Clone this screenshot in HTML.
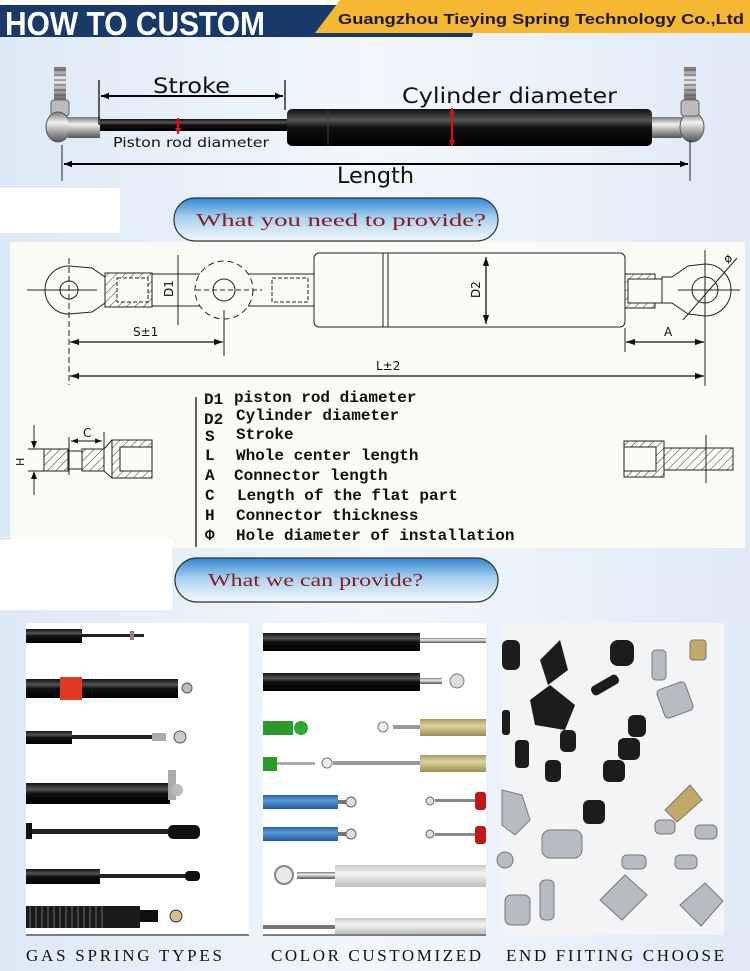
<!DOCTYPE html>
<html><head><meta charset="utf-8"><style>html,body{margin:0;padding:0;background:#fff}svg{display:block}</style></head><body>
<svg width="750" height="971" viewBox="0 0 750 971" xmlns="http://www.w3.org/2000/svg">
<defs>
<linearGradient id="bg" x1="0" y1="0" x2="1" y2="0"><stop offset="0" stop-color="#dce9f6"/><stop offset="0.5" stop-color="#f3f7fc"/><stop offset="1" stop-color="#dfeaf6"/></linearGradient>
<linearGradient id="btn" x1="0" y1="0" x2="0" y2="1"><stop offset="0" stop-color="#2f86d0"/><stop offset="0.45" stop-color="#a9d0ef"/><stop offset="1" stop-color="#f4f9fd"/></linearGradient>
<linearGradient id="blk" x1="0" y1="0" x2="0" y2="1"><stop offset="0" stop-color="#111"/><stop offset="0.3" stop-color="#555"/><stop offset="0.5" stop-color="#111"/><stop offset="1" stop-color="#000"/></linearGradient>
<linearGradient id="chr" x1="0" y1="0" x2="0" y2="1"><stop offset="0" stop-color="#777"/><stop offset="0.35" stop-color="#f2f2f2"/><stop offset="0.7" stop-color="#999"/><stop offset="1" stop-color="#555"/></linearGradient>
<linearGradient id="kha" x1="0" y1="0" x2="0" y2="1"><stop offset="0" stop-color="#a89a5c"/><stop offset="0.4" stop-color="#ddd3a0"/><stop offset="1" stop-color="#9b8d50"/></linearGradient>
<linearGradient id="blu" x1="0" y1="0" x2="0" y2="1"><stop offset="0" stop-color="#2a66a8"/><stop offset="0.4" stop-color="#5a9ad8"/><stop offset="1" stop-color="#245a96"/></linearGradient>
<linearGradient id="wht" x1="0" y1="0" x2="0" y2="1"><stop offset="0" stop-color="#c8c8c8"/><stop offset="0.4" stop-color="#f4f4f4"/><stop offset="1" stop-color="#bdbdbd"/></linearGradient>
<pattern id="hatch" width="6" height="6" patternUnits="userSpaceOnUse" patternTransform="rotate(45)"><rect width="6" height="6" fill="#fbfbf6"/><line x1="0" y1="0" x2="0" y2="6" stroke="#333" stroke-width="1"/></pattern>
<marker id="ar" viewBox="0 0 10 10" refX="10" refY="5" markerWidth="7" markerHeight="7" orient="auto-start-reverse"><path d="M0,1.5L10,5L0,8.5z" fill="#111"/></marker>
<marker id="arB" viewBox="0 0 10 10" refX="10" refY="5" markerWidth="4" markerHeight="4" orient="auto-start-reverse"><path d="M0,1L10,5L0,9z" fill="#000"/></marker>
<marker id="arR" viewBox="0 0 10 10" refX="10" refY="5" markerWidth="3" markerHeight="3" orient="auto-start-reverse"><path d="M0,0L10,5L0,10z" fill="#e01010"/></marker>
</defs>
<rect width="750" height="971" fill="url(#bg)"/>
<!-- header -->
<rect x="0" y="0" width="750" height="6" fill="#fff"/>
<polygon points="0,5 480,5 472,37 0,37" fill="#173a6b"/>
<polygon points="340,0 750,0 750,33 315,33" fill="#f6b733"/>
<text x="5" y="35" font-family="Liberation Sans, sans-serif" font-weight="bold" font-size="33" fill="#fff" textLength="260" lengthAdjust="spacingAndGlyphs">HOW TO CUSTOM</text>
<text x="338" y="24" font-family="Liberation Sans, sans-serif" font-weight="bold" font-size="15" fill="#1a1a1a" textLength="406" lengthAdjust="spacingAndGlyphs">Guangzhou Tieying Spring Technology Co.,Ltd</text>
<!-- top spring -->
<rect x="54" y="67" width="12" height="36" fill="url(#chr)" transform="rotate(0)"/>
<path d="M54,70h12M54,75h12M54,80h12M54,85h12M54,90h12M54,95h12" stroke="#555" stroke-width="1"/>
<rect x="51" y="100" width="18" height="16" rx="3" fill="#bbb" stroke="#666"/>
<ellipse cx="58" cy="127" rx="12" ry="15" fill="url(#chr)" stroke="#555"/>
<rect x="68" y="117" width="32" height="21" fill="url(#chr)"/>
<rect x="100" y="119" width="187" height="12" fill="url(#blk)"/>
<rect x="287" y="109" width="365" height="37" rx="5" fill="url(#blk)"/>
<line x1="328" y1="110" x2="328" y2="145" stroke="#444"/>
<rect x="652" y="117" width="30" height="21" fill="url(#chr)"/>
<ellipse cx="692" cy="127" rx="12" ry="15" fill="url(#chr)" stroke="#555"/>
<rect x="684" y="67" width="12" height="36" fill="url(#chr)"/>
<path d="M684,70h12M684,75h12M684,80h12M684,85h12M684,90h12M684,95h12" stroke="#555" stroke-width="1"/>
<rect x="681" y="100" width="18" height="16" rx="3" fill="#bbb" stroke="#666"/>
<line x1="99" y1="80" x2="99" y2="125" stroke="#000" stroke-width="1.2"/>
<line x1="285" y1="80" x2="285" y2="110" stroke="#000" stroke-width="1.2"/>
<line x1="101" y1="96" x2="283" y2="96" stroke="#000" stroke-width="2" marker-start="url(#arB)" marker-end="url(#arB)"/>
<text x="153" y="93" font-family="DejaVu Sans, sans-serif" font-size="21" fill="#111" textLength="77" lengthAdjust="spacingAndGlyphs">Stroke</text>
<text x="402" y="103" font-family="DejaVu Sans, sans-serif" font-size="21" fill="#111" textLength="215" lengthAdjust="spacingAndGlyphs">Cylinder diameter</text>
<text x="113" y="147" font-family="DejaVu Sans, sans-serif" font-size="13.5" fill="#111" textLength="156" lengthAdjust="spacingAndGlyphs">Piston rod diameter</text>
<line x1="178" y1="118" x2="178" y2="134" stroke="#e01010" stroke-width="2" marker-start="url(#arR)" marker-end="url(#arR)"/>
<line x1="452" y1="108" x2="452" y2="146" stroke="#e01010" stroke-width="2" marker-start="url(#arR)" marker-end="url(#arR)"/>
<line x1="62" y1="145" x2="62" y2="181" stroke="#222"/>
<line x1="690" y1="140" x2="690" y2="181" stroke="#222"/>
<line x1="64" y1="164" x2="688" y2="164" stroke="#000" stroke-width="2" marker-start="url(#arB)" marker-end="url(#arB)"/>
<text x="337" y="183" font-family="DejaVu Sans, sans-serif" font-size="22" fill="#111" textLength="77" lengthAdjust="spacingAndGlyphs">Length</text>
<!-- drawing area -->
<rect x="0" y="188" width="120" height="45" fill="#fff"/>
<rect x="10" y="242" width="735" height="306" fill="#fbfbf6"/>
<rect x="0" y="540" width="172" height="70" fill="#fff"/>
<rect x="174" y="198" width="324" height="43" rx="21" fill="url(#btn)" stroke="#333" stroke-width="1.2"/>
<text x="196" y="226" font-family="Liberation Serif, serif" font-size="18" fill="#8a1a1a" textLength="290" lengthAdjust="spacingAndGlyphs">What you need to provide?</text>
<g fill="none" stroke="#222" stroke-width="1">
 <path d="M69,266 A24,24 0 1 0 69,314 L92,312 L105,303 L105,277 L92,268 Z" fill="#fbfbf6"/>
 <circle cx="69" cy="290" r="9"/>
 <line x1="27" y1="290" x2="97" y2="290"/>
 <line x1="69" y1="258" x2="69" y2="385" stroke-dasharray="6,3"/>
 <rect x="105" y="273" width="47" height="34" fill="url(#hatch)"/>
 <rect x="117" y="278" width="31" height="24" fill="#fbfbf6" stroke-dasharray="4,2"/>
 <line x1="152" y1="274" x2="200" y2="274"/><line x1="152" y1="306" x2="200" y2="306"/>
 <line x1="178" y1="255" x2="178" y2="325"/>
 <circle cx="224" cy="290" r="29" stroke-dasharray="6,4"/>
 <circle cx="224" cy="290" r="11"/>
 <line x1="196" y1="290" x2="262" y2="290" stroke-dasharray="5,3"/>
 <line x1="224" y1="310" x2="224" y2="356"/>
 <line x1="248" y1="274" x2="314" y2="274"/><line x1="248" y1="306" x2="314" y2="306"/>
 <rect x="272" y="278" width="36" height="24" stroke-dasharray="4,2"/>
 <rect x="314" y="253" width="311" height="74" rx="5" fill="#fbfbf6"/>
 <line x1="383" y1="253" x2="383" y2="327"/><line x1="388" y1="253" x2="388" y2="327"/>
 <rect x="625" y="274" width="30" height="34" fill="url(#hatch)"/>
 <rect x="628" y="279" width="34" height="24" fill="#fbfbf6"/>
 <path d="M705,264 A26,26 0 1 1 705,316 L688,314 L672,303 L662,303 L662,277 L672,277 L688,266 Z" fill="#fbfbf6"/>
 <circle cx="705" cy="290" r="13"/>
 <line x1="678" y1="290" x2="740" y2="290"/>
 <line x1="705" y1="250" x2="705" y2="386"/>
 <line x1="683" y1="320" x2="737" y2="258"/>
 <line x1="625" y1="328" x2="625" y2="352"/>
</g>
<line x1="486" y1="257" x2="486" y2="324" stroke="#111" stroke-width="1.3" marker-start="url(#ar)" marker-end="url(#ar)"/>
<line x1="70" y1="342" x2="223" y2="342" stroke="#111" stroke-width="1.3" marker-start="url(#ar)" marker-end="url(#ar)"/>
<line x1="626" y1="342" x2="704" y2="342" stroke="#111" stroke-width="1.3" marker-start="url(#ar)" marker-end="url(#ar)"/>
<line x1="70" y1="376" x2="704" y2="376" stroke="#111" stroke-width="1.3" marker-start="url(#ar)" marker-end="url(#ar)"/>
<g font-family="DejaVu Sans, sans-serif" font-size="12" fill="#111">
 <text x="133" y="336">S±1</text><text x="664" y="336">A</text><text x="376" y="370">L±2</text>
 <text transform="translate(173,297) rotate(-90)">D1</text>
 <text transform="translate(480,298) rotate(-90)">D2</text>
 <text transform="translate(728,264) rotate(-45)">ø</text>
</g>
<!-- legend -->
<line x1="196" y1="397" x2="196" y2="547" stroke="#111" stroke-width="1.3"/>
<g font-family="Liberation Mono, monospace" font-weight="bold" font-size="16" fill="#111">
 <text x="204" y="404">D1</text><text x="234" y="402">piston rod diameter</text>
 <text x="204" y="424">D2</text><text x="236" y="420">Cylinder diameter</text>
 <text x="205" y="441">S</text><text x="236" y="439">Stroke</text>
 <text x="205" y="460">L</text><text x="236" y="460">Whole center length</text>
 <text x="205" y="480">A</text><text x="234" y="480">Connector length</text>
 <text x="205" y="500">C</text><text x="237" y="500">Length of the flat part</text>
 <text x="205" y="520">H</text><text x="236" y="520">Connector thickness</text>
 <text x="205" y="540">Φ</text><text x="236" y="540">Hole diameter of installation</text>
</g>
<g fill="none" stroke="#222" stroke-width="1">
 <rect x="44" y="449" width="24" height="22" fill="url(#hatch)"/>
 <rect x="82" y="449" width="22" height="22" fill="url(#hatch)"/>
 <line x1="68" y1="451" x2="82" y2="451"/><line x1="68" y1="469" x2="82" y2="469"/>
 <rect x="112" y="440" width="40" height="38" fill="url(#hatch)"/>
 <rect x="120" y="447" width="32" height="24" fill="#fbfbf6"/>
 <path d="M104,449 L112,440 M104,471 L112,478"/>
 <line x1="69" y1="437" x2="69" y2="475"/><line x1="104" y1="432" x2="104" y2="471"/>
 <line x1="28" y1="449" x2="44" y2="449"/><line x1="28" y1="471" x2="44" y2="471"/>
 <line x1="34" y1="425" x2="34" y2="447"/><line x1="34" y1="473" x2="34" y2="495"/>
 <rect x="624" y="441" width="40" height="36" fill="url(#hatch)"/>
 <rect x="624" y="447" width="32" height="24" fill="#fbfbf6"/>
 <rect x="664" y="448" width="69" height="22" fill="url(#hatch)"/>
 <line x1="706" y1="435" x2="706" y2="483"/>
</g>
<line x1="71" y1="441" x2="102" y2="441" stroke="#111" marker-start="url(#ar)" marker-end="url(#ar)"/>
<text x="83" y="437" font-family="DejaVu Sans, sans-serif" font-size="12" fill="#111">C</text>
<text transform="translate(24,466) rotate(-90)" font-family="DejaVu Sans, sans-serif" font-size="11" fill="#111">H</text>
<path d="M31,441 L34,449 L37,441z M31,479 L34,471 L37,479z" fill="#111"/>
<!-- button 2 -->
<rect x="175" y="558" width="323" height="44" rx="22" fill="url(#btn)" stroke="#333" stroke-width="1.2"/>
<text x="208" y="586" font-family="Liberation Serif, serif" font-size="18" fill="#8a1a1a" textLength="215" lengthAdjust="spacingAndGlyphs">What we can provide?</text>
<!-- panels -->
<rect x="26" y="623" width="223" height="312" fill="#fff"/>
<rect x="263" y="623" width="223" height="312" fill="#fff"/>
<rect x="501" y="623" width="223" height="312" fill="#f2f4f6"/>
<line x1="26" y1="935" x2="249" y2="935" stroke="#555" stroke-width="1.5"/>
<line x1="263" y1="935" x2="486" y2="935" stroke="#555" stroke-width="1.5"/>
<!-- panel1 -->
<rect x="26" y="629" width="56" height="14" fill="url(#blk)"/><rect x="82" y="634" width="62" height="3" fill="#222"/><rect x="130" y="631" width="4" height="9" fill="#a77"/>
<rect x="26" y="679" width="152" height="19" fill="url(#blk)"/><rect x="60" y="677" width="22" height="23" fill="#e03a20"/><circle cx="187" cy="688" r="5" fill="#bbb" stroke="#555"/>
<rect x="26" y="731" width="46" height="13" fill="url(#blk)"/><rect x="72" y="735" width="80" height="4" fill="#222"/><rect x="152" y="733" width="14" height="8" fill="#aaa"/><circle cx="180" cy="737" r="6" fill="#ccc" stroke="#555"/>
<rect x="26" y="783" width="144" height="21" fill="url(#blk)"/><rect x="168" y="770" width="8" height="30" fill="#aaa"/><circle cx="177" cy="790" r="6" fill="#bbb"/>
<rect x="26" y="823" width="6" height="16" fill="#111"/><rect x="32" y="829" width="138" height="5" fill="#222"/><rect x="168" y="825" width="32" height="14" rx="5" fill="#111"/>
<rect x="26" y="869" width="74" height="15" fill="url(#blk)"/><rect x="100" y="874" width="85" height="4" fill="#222"/><rect x="185" y="871" width="15" height="10" rx="4" fill="#111"/>
<rect x="26" y="906" width="114" height="22" fill="#1a1a1a"/><path d="M30,906v22M36,906v22M42,906v22M48,906v22M54,906v22M60,906v22M66,906v22M72,906v22M78,906v22M84,906v22M90,906v22M96,906v22M102,906v22" stroke="#444" stroke-width="2"/><rect x="140" y="910" width="18" height="12" fill="#111"/><circle cx="176" cy="916" r="6" fill="#d8c08a" stroke="#333"/>
<!-- panel2 -->
<rect x="263" y="633" width="157" height="18" fill="url(#blk)"/><rect x="420" y="638" width="66" height="5" fill="url(#chr)"/>
<rect x="263" y="673" width="157" height="18" fill="url(#blk)"/><rect x="420" y="678" width="22" height="6" fill="url(#chr)"/><circle cx="457" cy="681" r="7" fill="#ddd" stroke="#777"/>
<rect x="420" y="719" width="66" height="17" fill="url(#kha)"/><rect x="393" y="725" width="27" height="4" fill="#999"/><circle cx="383" cy="727" r="5" fill="#eee" stroke="#777"/>
<rect x="263" y="721" width="30" height="14" fill="#2a9a2a"/><circle cx="301" cy="728" r="7" fill="#2fa82f"/>
<rect x="420" y="755" width="66" height="17" fill="url(#kha)"/><rect x="333" y="761" width="87" height="4" fill="#999"/><circle cx="327" cy="763" r="5" fill="#eee" stroke="#777"/>
<rect x="263" y="757" width="14" height="14" fill="#2a9a2a"/><rect x="277" y="762" width="38" height="3" fill="#aaa"/>
<rect x="263" y="795" width="75" height="14" fill="url(#blu)"/><rect x="338" y="800" width="8" height="4" fill="#777"/><circle cx="351" cy="802" r="5" fill="#ddd" stroke="#666"/>
<rect x="263" y="827" width="75" height="14" fill="url(#blu)"/><rect x="338" y="832" width="8" height="4" fill="#777"/><circle cx="351" cy="834" r="5" fill="#ddd" stroke="#666"/>
<rect x="475" y="792" width="11" height="18" rx="3" fill="#c01818"/><rect x="435" y="799" width="40" height="3" fill="#888"/><circle cx="430" cy="801" r="4" fill="#ddd" stroke="#666"/>
<rect x="475" y="826" width="11" height="18" rx="3" fill="#c01818"/><rect x="435" y="833" width="40" height="3" fill="#888"/><circle cx="430" cy="834" r="4" fill="#ddd" stroke="#666"/>
<rect x="335" y="865" width="151" height="22" fill="url(#wht)"/><rect x="297" y="872" width="38" height="7" fill="url(#chr)"/><circle cx="284" cy="875" r="9" fill="#e8e8e8" stroke="#888" stroke-width="2"/>
<rect x="335" y="918" width="151" height="16" fill="url(#wht)"/><rect x="263" y="925" width="72" height="4" fill="#777"/>
<!-- panel3 fittings -->
<g fill="#1c1c1c">
 <rect x="502" y="640" width="18" height="30" rx="6"/><path d="M540,660l20,-20l8,30l-20,15z"/><rect x="610" y="640" width="24" height="26" rx="8"/>
 <path d="M530,700l20,-15l25,20l-10,25l-30,-5z"/><rect x="590" y="680" width="30" height="10" rx="4" transform="rotate(-30 605 685)"/>
 <rect x="515" y="740" width="14" height="28" rx="4"/><rect x="560" y="730" width="16" height="22" rx="5"/>
 <rect x="628" y="715" width="18" height="22" rx="6"/><rect x="618" y="738" width="22" height="22" rx="6"/>
 <rect x="545" y="760" width="16" height="22" rx="5"/><rect x="603" y="760" width="22" height="22" rx="6"/><rect x="583" y="800" width="22" height="24" rx="6"/>
 <rect x="502" y="710" width="8" height="25" rx="3"/>
</g>
<g fill="#b8bcc2" stroke="#777">
 <rect x="690" y="640" width="16" height="20" rx="3" fill="#c4a868"/><rect x="660" y="685" width="30" height="30" rx="4" transform="rotate(-20 675 700)"/>
 <rect x="652" y="650" width="14" height="30" rx="4"/><path d="M665,810l25,-25l12,15l-25,22z" fill="#c4a868"/>
 <path d="M502,790l20,5l8,25l-15,15l-13,-10z"/><rect x="542" y="830" width="40" height="28" rx="8"/>
 <rect x="655" y="820" width="20" height="14" rx="5"/><rect x="695" y="825" width="22" height="14" rx="5"/>
 <rect x="622" y="855" width="24" height="14" rx="5"/><rect x="675" y="855" width="22" height="14" rx="5"/>
 <path d="M600,900l25,-25l22,20l-25,25z"/><path d="M680,905l25,-22l18,18l-22,25z"/>
 <rect x="540" y="880" width="14" height="40" rx="5"/><rect x="505" y="895" width="25" height="30" rx="6"/>
 <circle cx="505" cy="860" r="8"/>
</g>
<!-- labels -->
<g font-family="Liberation Serif, serif" font-size="17" fill="#111">
 <text x="26" y="961" textLength="196" lengthAdjust="spacing">GAS SPRING TYPES</text>
 <text x="271" y="961" textLength="210" lengthAdjust="spacing">COLOR CUSTOMIZED</text>
 <text x="506" y="961" textLength="218" lengthAdjust="spacing">END FIITING CHOOSE</text>
</g>
</svg>
</body></html>
